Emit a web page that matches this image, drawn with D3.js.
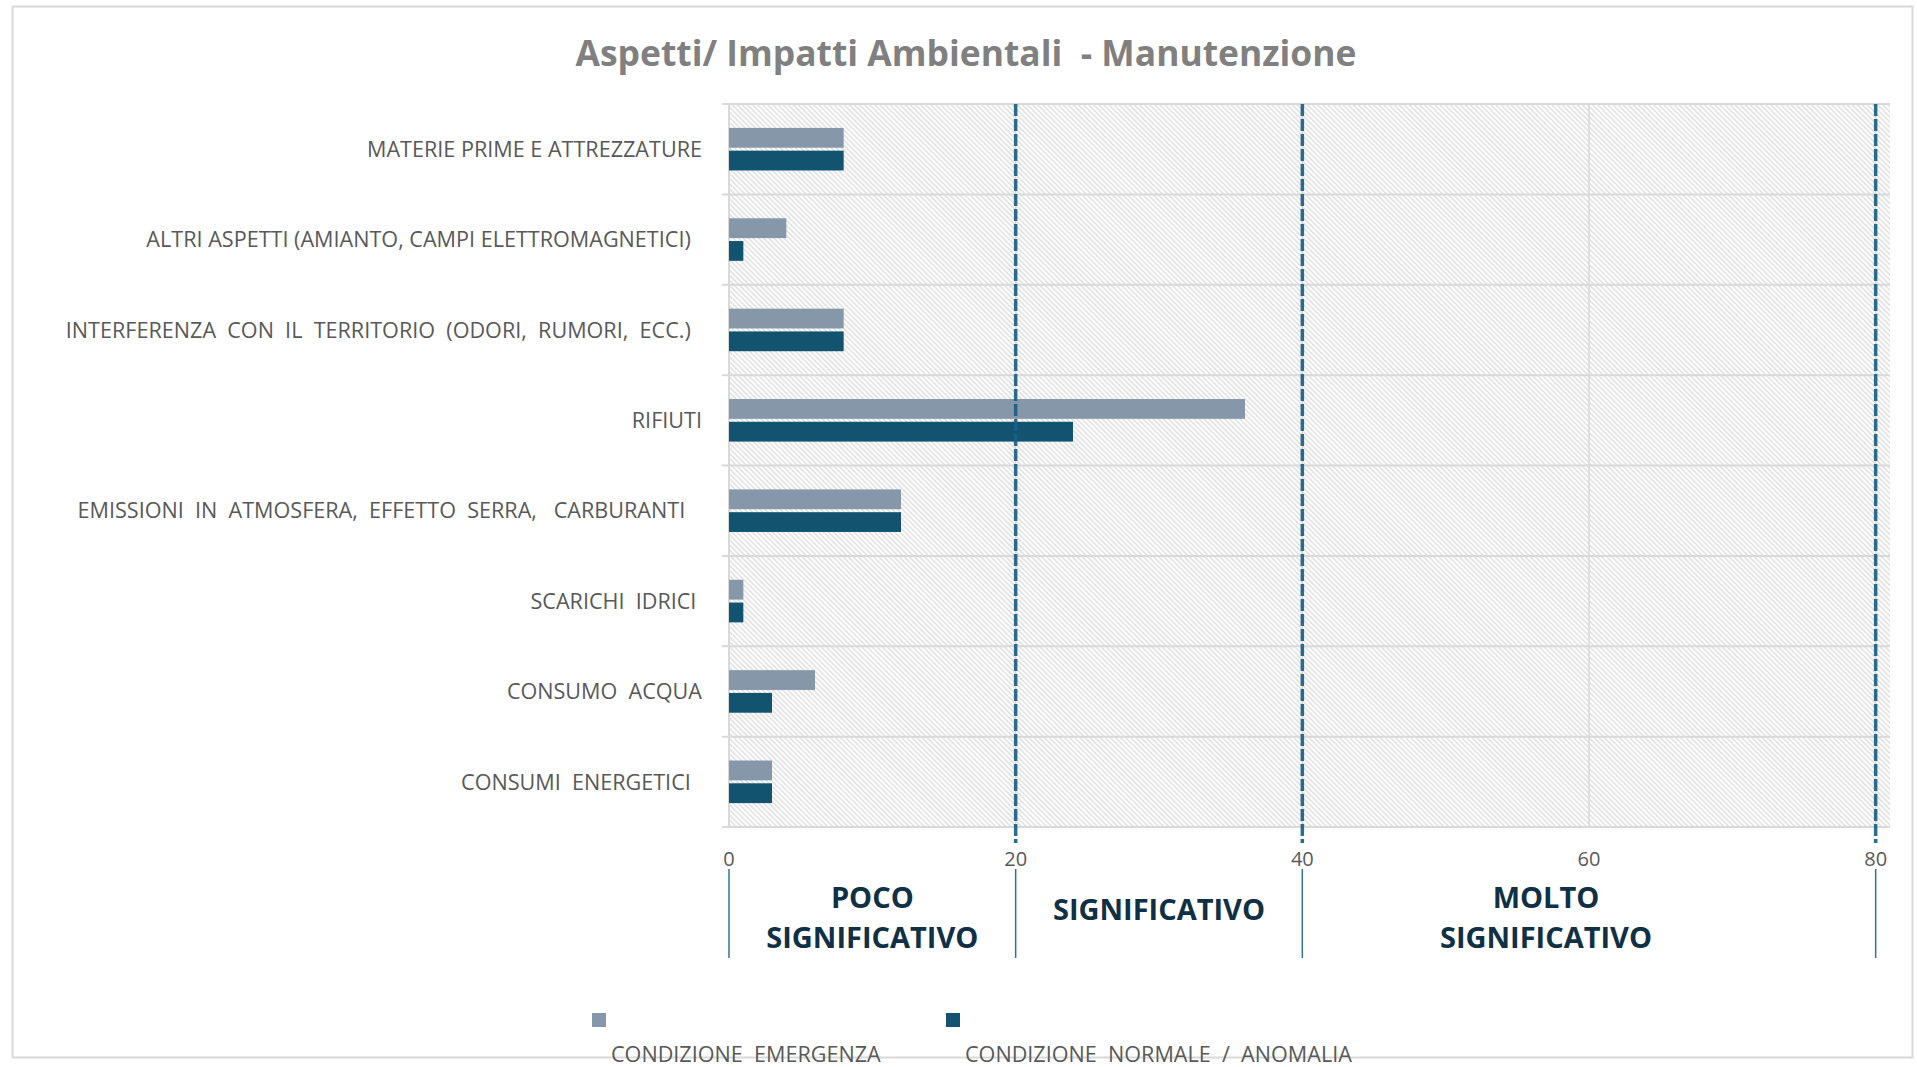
<!DOCTYPE html>
<html>
<head>
<meta charset="utf-8">
<script src="https://cdn.jsdelivr.net/npm/d3@7"></script>
<style>
  html, body { margin: 0; padding: 0; background: #fff; }
  svg text { font-family: "Open Sans", sans-serif; white-space: pre; }
</style>
</head>
<body>
<svg id="chart"></svg>
<script>
const categories = [
  'MATERIE PRIME E ATTREZZATURE',
  'ALTRI ASPETTI (AMIANTO, CAMPI ELETTROMAGNETICI)  ',
  'INTERFERENZA  CON  IL  TERRITORIO  (ODORI,  RUMORI,  ECC.)  ',
  'RIFIUTI',
  'EMISSIONI  IN  ATMOSFERA,  EFFETTO  SERRA,   CARBURANTI   ',
  'SCARICHI  IDRICI ',
  'CONSUMO  ACQUA',
  'CONSUMI  ENERGETICI  '
]
const emergenzaValues = [8, 4, 8, 36, 12, 1, 6, 3]
const normaleValues = [8, 1, 8, 24, 12, 1, 3, 3]
const seriesNames = ['CONDIZIONE  EMERGENZA', 'CONDIZIONE  NORMALE  /  ANOMALIA']
const xTicks = [0, 20, 40, 60, 80]
const thresholds = [20, 40, 80]
const zoneBounds = [0, 20, 40, 80]
const zoneLabels = [['POCO', 'SIGNIFICATIVO'], ['SIGNIFICATIVO'], ['MOLTO', 'SIGNIFICATIVO']]
const zoneLabelAt = [10, 30, 57]

const W = 1917, H = 1067
const plot = { left: 729, right: 1890, top: 104, bottom: 827 }
const colors = ['#8597a9', '#12546f']
const grid = '#d9d9d9'

const svg = d3.select('#chart').attr('width', W).attr('height', H)

// fondo hatch
const defs = svg.append('defs')
defs.append('pattern')
  .attr('id', 'hatch')
  .attr('patternUnits', 'userSpaceOnUse')
  .attr('width', 3.6)
  .attr('height', 10)
  .attr('patternTransform', 'rotate(-45)')
  .append('line')
  .attr('x1', 0.8).attr('x2', 0.8)
  .attr('y1', 0).attr('y2', 10)
  .attr('stroke', '#dadada')
  .attr('stroke-width', 1.3)

svg.append('rect')
  .attr('x', 12.5).attr('y', 6.5)
  .attr('width', 1900).attr('height', 1051)
  .attr('fill', '#fff')
  .attr('stroke', grid)
  .attr('stroke-width', 2)

const x = d3.scaleLinear().domain([0, 81]).range([plot.left, plot.right])
const y = d3.scaleBand().domain(categories).range([plot.top, plot.bottom])
const ySub = d3.scaleBand().domain([0, 1]).range([0, y.bandwidth()])
  .paddingInner(0.13).paddingOuter(1.05)

svg.append('rect')
  .attr('x', plot.left).attr('y', plot.top)
  .attr('width', plot.right - plot.left).attr('height', plot.bottom - plot.top)
  .attr('fill', 'url(#hatch)')

// griglia verticale
svg.append('g').selectAll('line')
  .data(xTicks.filter(d => d > 0))
  .enter().append('line')
  .attr('x1', d => x(d)).attr('x2', d => x(d))
  .attr('y1', plot.top).attr('y2', plot.bottom)
  .attr('stroke', grid).attr('stroke-width', 1.5)

// griglia orizzontale + tacche
const bounds = categories.map(c => y(c)).concat([plot.bottom])
svg.append('g').selectAll('line')
  .data(bounds)
  .enter().append('line')
  .attr('x1', plot.left - 7).attr('x2', plot.right)
  .attr('y1', d => d).attr('y2', d => d)
  .attr('stroke', grid).attr('stroke-width', 2)

svg.append('line')
  .attr('x1', plot.left).attr('x2', plot.left)
  .attr('y1', plot.top).attr('y2', plot.bottom)
  .attr('stroke', grid).attr('stroke-width', 2)

// barre
const series = [emergenzaValues, normaleValues]
series.forEach((values, s) => {
  svg.append('g').selectAll('rect')
    .data(values)
    .enter().append('rect')
    .attr('x', x(0))
    .attr('y', (d, i) => y(categories[i]) + ySub(s))
    .attr('width', d => x(d) - x(0))
    .attr('height', ySub.bandwidth())
    .attr('fill', colors[s])
})

// soglie tratteggiate
svg.append('g').selectAll('line')
  .data(thresholds)
  .enter().append('line')
  .attr('x1', d => x(d)).attr('x2', d => x(d))
  .attr('y1', plot.top).attr('y2', 843)
  .attr('stroke', '#1a5f86')
  .attr('stroke-opacity', 0.92)
  .attr('stroke-width', 3.5)
  .attr('stroke-dasharray', '12,3')

// etichette categorie
svg.append('g').selectAll('text')
  .data(categories)
  .enter().append('text')
  .attr('x', 702)
  .attr('y', d => y(d) + y.bandwidth() / 2)
  .attr('dy', '0.36em')
  .attr('text-anchor', 'end')
  .attr('font-size', '21.6px')
  .attr('fill', '#595959')
  .text(d => d)

// etichette asse x
svg.append('g').selectAll('text')
  .data(xTicks)
  .enter().append('text')
  .attr('x', d => x(d))
  .attr('y', 866)
  .attr('text-anchor', 'middle')
  .attr('font-size', '20px')
  .attr('fill', '#595959')
  .text(d => d)

// fasce di significatività
svg.append('g').selectAll('line')
  .data(zoneBounds)
  .enter().append('line')
  .attr('x1', d => x(d)).attr('x2', d => x(d))
  .attr('y1', 869).attr('y2', 958)
  .attr('stroke', '#2f7394')
  .attr('stroke-width', 1.5)

zoneLabels.forEach((lines, i) => {
  const t = svg.append('text')
    .attr('text-anchor', 'middle')
    .attr('font-size', '29px')
    .attr('font-weight', 700)
    .attr('fill', '#0f3045')
  const y0 = lines.length === 1 ? 920 : 908
  lines.forEach((l, k) => {
    t.append('tspan')
      .attr('x', x(zoneLabelAt[i]))
      .attr('y', y0 + k * 40)
      .text(l)
  })
})

// titolo
svg.append('text')
  .attr('x', 966)
  .attr('y', 66)
  .attr('text-anchor', 'middle')
  .attr('font-size', '36px')
  .attr('font-weight', 700)
  .attr('fill', '#808080')
  .attr('textLength', 781)
  .attr('lengthAdjust', 'spacingAndGlyphs')
  .text('Aspetti/ Impatti Ambientali  - Manutenzione')

// legenda
const legendX = [592, 946]
seriesNames.forEach((name, s) => {
  svg.append('rect')
    .attr('x', legendX[s]).attr('y', 1013)
    .attr('width', 14).attr('height', 14)
    .attr('fill', colors[s])
  svg.append('text')
    .attr('x', legendX[s] + 19)
    .attr('y', 1062)
    .attr('font-size', '21.6px')
    .attr('fill', '#595959')
    .text(name)
})
</script>
</body>
</html>
